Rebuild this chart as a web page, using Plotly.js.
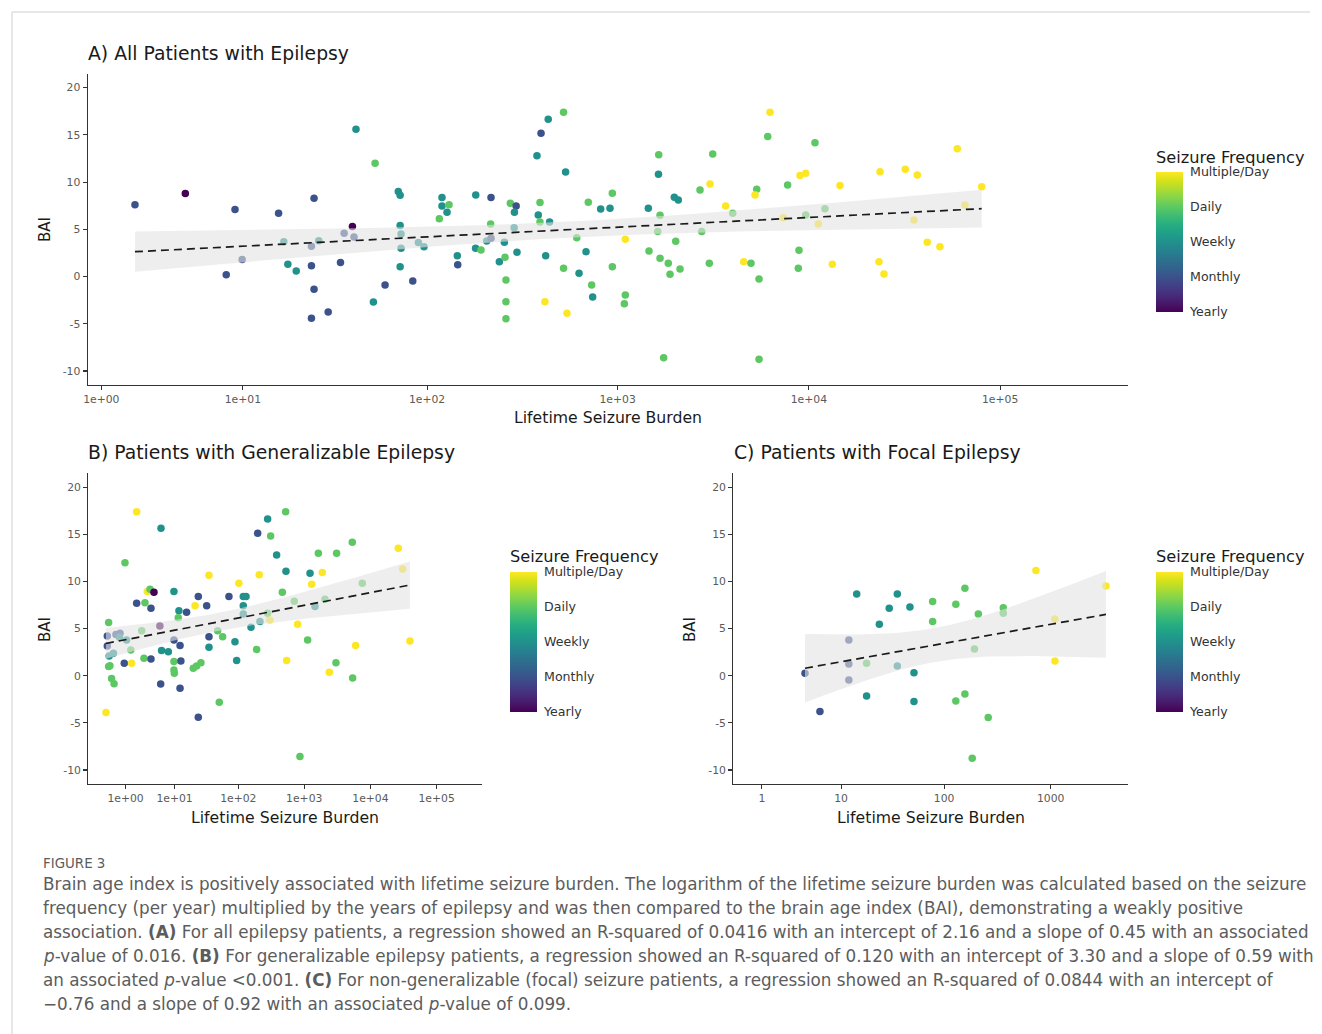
<!DOCTYPE html>
<html><head><meta charset="utf-8">
<script src="https://cdn.plot.ly/plotly-3.0.1.min.js"></script>
<style>body{margin:0;background:#fff}#chart{width:1322px;height:1034px}</style>
</head><body><div id="chart"></div>
<script>
// ---------- DATA ----------
// Panel A: all patients
const allBurden = [2.0,4.5,9.0,15.9,24.9,9.9,8.0,17,26.4,24.1,17.9,19.9,24.1,24.9,24.1,29.7,41.9,53,70.4,72,40.1,36.2,40.9,72,72.8,72.8,72,34.6,59.9,84,51.9,89.9,96.3,119.8,119.8,130.5,127.4,116,144.3,145,180.4,217,216,180,192.3,206,217,255,240,257,297,274,294,288,287,260,260,260,416,392,384,392,440,420,378,397,433,521,534,521,543,702,938,815,912,611,683,628,731,740,1097,938,1097,1084,1640,1635,1447,1666,1620,1459,1666,1840,1879,2120,2013,1979,2076,1741,2697,3042,3143,3674,3998,2753,3016,4563,4982,5488,5488,5337,5230,6094,6265,7746,7351,8989,8880,8807,10764,9626,14548,12139,9626,11199,13263,23549,31919,36890,59700,80080,65460,35440,41590,48420,23260,24700];
const allBAI = [7.6,8.8,7.1,6.7,8.3,1.8,0.2,3.7,3.8,3.2,1.3,0.6,1.15,-1.35,-4.4,-3.75,15.6,12.0,9.0,8.6,5.3,4.6,4.2,5.4,4.5,3.0,1.05,1.5,-0.9,-0.47,-2.7,3.6,3.17,8.36,7.48,7.6,6.8,6.13,2.2,1.26,8.64,8.36,5.57,3.0,2.82,3.77,4.06,3.63,1.58,2.04,2.57,7.76,7.48,6.81,5.18,-0.36,-2.66,-4.46,-2.66,7.83,6.53,5.78,5.78,2.21,12.78,15.18,16.66,17.4,11.08,0.88,-3.89,7.87,8.82,7.16,7.24,4.12,2.64,0.35,-0.89,-2.16,3.95,1.05,-1.95,-2.87,12.91,10.84,7.24,6.49,4.76,2.71,1.94,1.41,0.24,0.81,3.74,8.4,8.11,-8.59,9.17,9.81,12.99,7.48,6.7,4.76,1.41,1.58,1.41,-0.25,-8.76,9.25,8.64,14.82,17.4,9.7,6.24,10.69,2.8,0.88,14.18,10.94,9.63,7.19,6.53,5.57,1.3,11.11,11.37,10.76,13.52,9.52,7.58,6.0,3.63,3.17,1.58,0.28];
const allFreq = [2,1,2,2,2,2,2,3,3,2,3,3,2,2,2,2,3,4,3,3,1,2,2,3,3,3,3,2,2,2,3,3,3,3,3,4,3,4,3,2,3,2,4,3,4,3,2,3,3,4,3,4,2,3,3,4,4,4,5,4,3,4,3,3,3,2,3,4,3,4,5,4,4,3,3,4,3,3,4,3,5,4,4,4,4,3,3,4,4,4,4,4,4,4,4,3,3,4,4,5,4,5,4,4,4,5,4,4,4,4,5,4,5,4,5,5,4,4,4,5,5,4,4,5,5,5,5,5,5,5,5,5,5,5,5,5];

// Panel B: generalizable epilepsy
const genBurden = [0.01,0.11,0.06,0.06,0.13,0.11,0.16,0.23,0.34,0.43,0.31,0.65,0.62,0.96,0.91,1.4,1.47,1.07,1.94,1.94,2.5,2.93,2.79,3.26,3.68,4.37,3.84,3.84,5.6,5.86,5.78,6.0,7.85,9.76,9.76,9.76,9.9,9.76,11.8,11.5,12.3,12.7,12.3,15.7,20.1,22.7,26.5,21.4,24.1,32.6,24.1,35.4,35.4,35.4,48.2,57.5,51.1,71.9,88.9,94.3,102,119,131,119,119,156,197,208,190,213,279,310,279,302,382,466,523,529,541,707,793,860,1124,1222,1294,1452,1633,1875,2056,2393,3013,3083,5321,5383,5970,7534,26360,30620,39540];
const genBAI = [-3.91,5.64,4.23,3.17,2.1,0.97,1.07,-0.3,-0.84,4.37,2.38,4.5,4.1,12.0,1.33,2.74,1.33,3.8,17.42,7.69,4.79,7.76,1.86,8.93,9.18,8.86,7.16,1.79,5.29,15.65,-0.88,2.67,2.56,8.93,3.8,0.62,0.26,1.5,6.9,6.17,3.2,1.57,-1.33,6.74,0.79,1.04,1.39,7.44,8.4,7.44,-4.4,10.66,4.15,3.02,4.79,4.15,-2.81,8.4,3.62,1.61,9.82,8.4,8.4,7.44,6.55,5.14,15.13,10.73,2.8,5.75,16.64,14.84,6.63,5.93,12.81,8.86,17.42,11.1,1.61,7.92,5.47,-8.58,3.8,10.88,9.71,7.34,13.0,10.95,8.12,0.37,1.39,13.0,14.17,-0.23,3.2,9.82,13.53,11.34,3.69];
const genFreq = [5,4,2,2,3,4,4,4,4,2,3,2,3,4,2,4,5,3,5,2,4,4,4,5,4,1,2,2,1,3,2,3,3,3,2,4,4,4,3,4,2,2,2,2,4,4,4,5,2,2,2,5,2,3,4,4,4,2,3,3,5,3,3,3,3,3,2,5,4,3,3,4,4,5,3,4,4,3,5,4,5,4,4,3,5,3,4,5,4,5,4,4,4,4,5,4,5,5,5];

// Panel C: focal epilepsy
const focalBurden = [4.06,5.98,12.0,12.0,12.0,14.4,18.05,18.05,24.05,30.0,35.9,35.9,47.4,51.8,51.8,77.9,77.9,129,129,157,157,193,184,210,260,360,360,728,1096,1096,3288];
const focalBAI = [0.26,-3.8,3.8,1.25,-0.44,8.68,1.32,-2.14,5.46,7.16,8.68,1.04,7.3,0.33,-2.74,7.87,5.75,7.59,-2.67,9.29,-1.93,2.85,-8.76,6.56,-4.44,7.23,6.63,11.16,6.03,1.57,9.54];
const focalFreq = [2,2,2,2,2,3,4,3,3,3,3,3,3,3,3,4,4,4,4,4,4,4,4,4,4,4,4,5,5,5,5];

const freqLevels = [1,2,3,4,5];
const freqLabels = ['Yearly','Monthly','Weekly','Daily','Multiple/Day'];
const burdenTicks = [1,10,100,1000,10000,100000];
const sciTickLabels = ['1e+00','1e+01','1e+02','1e+03','1e+04','1e+05'];
const focalTicks = [1,10,100,1000];
const focalTickLabels = ['1','10','100','1000'];
const baiTicks = [-10,-5,0,5,10,15,20];

// ---------- helpers ----------
const W = 1322, H = 1034;
const fx = p => p / W, fy = p => 1 - p / H;
const tr = b => Math.log10(b + 1);          // log10(x+1) axis transform
const FONT = 'DejaVu Sans, sans-serif';

function tq975(df){ const z=1.959964;
  return z + (z**3+z)/(4*df) + (5*z**5+16*z**3+3*z)/(96*df*df) + (3*z**7+19*z**5+17*z**3-15*z)/(384*df**3); }

function fit(burden, bai){
  const X = burden.map(tr), n = X.length;
  const mx = X.reduce((a,b)=>a+b,0)/n, my = bai.reduce((a,b)=>a+b,0)/n;
  let sxx=0, sxy=0; for(let i=0;i<n;i++){ sxx+=(X[i]-mx)**2; sxy+=(X[i]-mx)*(bai[i]-my); }
  const slope = sxy/sxx, icpt = my - slope*mx;
  let sse=0; for(let i=0;i<n;i++){ sse += (bai[i]-icpt-slope*X[i])**2; }
  const s = Math.sqrt(sse/(n-2)), t = tq975(n-2);
  const lo = Math.min(...X), hi = Math.max(...X), gx=[], gy=[], up=[], dn=[];
  for(let k=0;k<80;k++){ const x = lo+(hi-lo)*k/79; const yh = icpt+slope*x;
    const se = s*Math.sqrt(1/n + (x-mx)**2/sxx); gx.push(x); gy.push(yh); up.push(yh+t*se); dn.push(yh-t*se); }
  return {gx, gy, up, dn};
}

function panelTraces(burden, bai, freq, xa, ya, cax){
  const f = fit(burden, bai);
  return [
    {type:'scatter', mode:'markers', x:burden.map(tr), y:bai, xaxis:xa, yaxis:ya,
     marker:{size:7.5, color:freq, coloraxis:cax, line:{width:0}}, hoverinfo:'skip', showlegend:false},
    {type:'scatter', mode:'lines', x:f.gx.concat(f.gx.slice().reverse()), y:f.up.concat(f.dn.slice().reverse()),
     xaxis:xa, yaxis:ya, fill:'toself', fillcolor:'rgba(226,226,226,0.6)', line:{width:0}, hoverinfo:'skip', showlegend:false},
    {type:'scatter', mode:'lines', x:f.gx, y:f.gy, xaxis:xa, yaxis:ya,
     line:{color:'#1a1a1a', width:1.7, dash:'8px,5px'}, hoverinfo:'skip', showlegend:false}
  ];
}

function xAxis(d0, d1, range, ticks, labels, anchor){
  return {domain:[fx(d0), fx(d1)], range:range, anchor:anchor, tickmode:'array',
    tickvals:ticks.map(tr), ticktext:labels, showline:true, linecolor:'#333', linewidth:1.2,
    ticks:'outside', ticklen:4, tickcolor:'#333', tickwidth:1.1, showgrid:false, zeroline:false,
    tickfont:{family:FONT, size:10.8, color:'#5a5a5a'}, fixedrange:true};
}
function yAxis(t0, t1, anchor){
  return {domain:[fy(t1), fy(t0)], range:[-11.5, 21.5], anchor:anchor, tickmode:'array',
    tickvals:baiTicks, ticktext:baiTicks.map(String), showline:true, linecolor:'#333', linewidth:1.2,
    ticks:'outside', ticklen:4, tickcolor:'#333', tickwidth:1.1, showgrid:false, zeroline:false,
    tickfont:{family:FONT, size:10.8, color:'#5a5a5a'}, fixedrange:true};
}
function cbar(left, top){
  return {colorscale:'Viridis', cmin:1, cmax:5,
    colorbar:{x:fx(left), xanchor:'left', y:fy(top), yanchor:'top', len:140, lenmode:'pixels',
      thickness:27, thicknessmode:'pixels', xpad:0, ypad:0, outlinewidth:0,
      tickmode:'array', tickvals:freqLevels, ticktext:freqLabels, ticks:'outside', ticklen:5,
      tickcolor:'rgba(255,255,255,0)', tickfont:{family:FONT, size:12.6, color:'#333'}}};
}
function txt(s, x, y, size, opts){
  return Object.assign({text:s, x:fx(x), y:fy(y), xref:'paper', yref:'paper', showarrow:false,
    xanchor:'left', yanchor:'middle', font:{family:FONT, size:size, color:'#1a1a1a'}}, opts||{});
}

const data = [].concat(
  panelTraces(allBurden, allBAI, allFreq, 'x', 'y', 'coloraxis'),
  panelTraces(genBurden, genBAI, genFreq, 'x2', 'y2', 'coloraxis2'),
  panelTraces(focalBurden, focalBAI, focalFreq, 'x3', 'y3', 'coloraxis3')
);

const CAP = 'DejaVu Sans, sans-serif', capColor = '#5c5c5c';
const captionLines = [
  'Brain age index is positively associated with lifetime seizure burden. The logarithm of the lifetime seizure burden was calculated based on the seizure',
  'frequency (per year) multiplied by the years of epilepsy and was then compared to the brain age index (BAI), demonstrating a weakly positive',
  'association. <b>(A)</b> For all epilepsy patients, a regression showed an R-squared of 0.0416 with an intercept of 2.16 and a slope of 0.45 with an associated',
  '<i>p</i>-value of 0.016. <b>(B)</b> For generalizable epilepsy patients, a regression showed an R-squared of 0.120 with an intercept of 3.30 and a slope of 0.59 with',
  'an associated <i>p</i>-value &lt;0.001. <b>(C)</b> For non-generalizable (focal) seizure patients, a regression showed an R-squared of 0.0844 with an intercept of',
  '\u22120.76 and a slope of 0.92 with an associated <i>p</i>-value of 0.099.'
];

const annotations = [
  txt('A) All Patients with Epilepsy', 86, 54, 18.8),
  txt('BAI', 45, 230, 15, {textangle:-90, xanchor:'center'}),
  txt('Lifetime Seizure Burden', 608, 417, 15.7, {xanchor:'center'}),
  txt('Seizure Frequency', 1154, 157, 16.2),
  txt('B) Patients with Generalizable Epilepsy', 86, 453, 18.8),
  txt('BAI', 45, 630, 15, {textangle:-90, xanchor:'center'}),
  txt('Lifetime Seizure Burden', 285, 817, 15.7, {xanchor:'center'}),
  txt('Seizure Frequency', 508, 556, 16.2),
  txt('C) Patients with Focal Epilepsy', 732, 453, 18.8),
  txt('BAI', 690, 630, 15, {textangle:-90, xanchor:'center'}),
  txt('Lifetime Seizure Burden', 931, 817, 15.7, {xanchor:'center'}),
  txt('Seizure Frequency', 1154, 556, 16.2),
  txt('FIGURE 3', 41, 863, 13.4, {font:{family:CAP, size:13.4, color:capColor}})
].concat(captionLines.map((s,i)=>txt(s, 41, 884+24*i, 16.8, {font:{family:CAP, size:16.8, color:capColor}})));

const layout = {
  width:W, height:H, margin:{l:0,r:0,t:0,b:0}, paper_bgcolor:'#fff', plot_bgcolor:'rgba(0,0,0,0)',
  showlegend:false, font:{family:FONT},
  xaxis: xAxis(87.7, 1128.3, [0.230, 5.670], burdenTicks, sciTickLabels, 'y'),
  yaxis: yAxis(73.5, 385.2, 'x'),
  xaxis2: xAxis(88.3, 481.7, [-0.262, 5.681], burdenTicks, sciTickLabels, 'y2'),
  yaxis2: yAxis(473.2, 784.1, 'x2'),
  xaxis3: xAxis(733.3, 1128.3, [0.034, 3.726], focalTicks, focalTickLabels, 'y3'),
  yaxis3: yAxis(473.2, 784.1, 'x3'),
  coloraxis: cbar(1156, 172),
  coloraxis2: cbar(510, 572),
  coloraxis3: cbar(1156, 572),
  annotations: annotations,
  shapes: [
    {type:'line', xref:'paper', yref:'paper', x0:fx(12), x1:fx(1310), y0:fy(12), y1:fy(12), line:{color:'#cfcfcf', width:1}},
    {type:'line', xref:'paper', yref:'paper', x0:fx(12), x1:fx(12), y0:fy(12), y1:fy(1034), line:{color:'#cfcfcf', width:1}}
  ]
};

Plotly.newPlot('chart', data, layout, {staticPlot:true, displayModeBar:false});
</script></body></html>
